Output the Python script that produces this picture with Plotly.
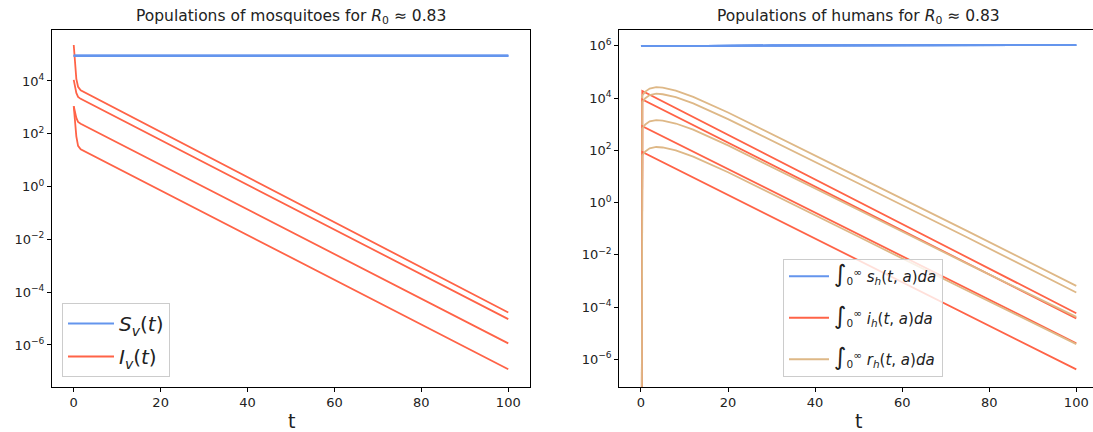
import plotly.graph_objects as go

# ---------------- data ----------------
# Left panel: mosquitoes, 4 simulations
t_mosq_S = [0, 50, 100]
S_v = [
    [9.0e4, 9.0e4, 9.0e4],
    [9.0e4, 9.0e4, 9.0e4],
    [9.0e4, 9.0e4, 9.0e4],
    [9.0e4, 9.0e4, 9.0e4],
]
t_mosq_I = [0, 0.6, 1.0, 1.6, 100]
I_v = [
    [2.3e5, 1.2e4, 6.0e3, 4.4e3, 1.7e-5],
    [1.1e4, 3.5e3, 2.5e3, 2.1e3, 9.5e-6],
    [1.1e3, 4.0e2, 2.8e2, 2.4e2, 1.15e-6],
    [1.1e3, 8.0e1, 3.5e1, 2.6e1, 1.2e-7],
]

# Right panel: humans, 4 simulations
t_hum_s = [0, 5, 15, 30, 100]
s_h = [
    [1.0e6, 0.99e6, 1.01e6, 1.04e6, 1.08e6],
    [1.0e6, 0.99e6, 1.01e6, 1.04e6, 1.08e6],
    [1.0e6, 0.99e6, 1.01e6, 1.04e6, 1.08e6],
    [1.0e6, 0.99e6, 1.01e6, 1.04e6, 1.08e6],
]
t_hum_i = [0, 0.3, 100]
i_h = [
    [0, 1.9e4, 5.8e-5],
    [0, 9.0e3, 3.7e-5],
    [0, 8.5e2, 4.1e-6],
    [0, 8.7e1, 4.1e-7],
]
t_hum_r = [0, 0.3, 1, 2, 3.5, 5, 8, 12, 20, 33, 50, 75, 100]
r_h = [
    [0, 1.26e4, 1.78e4, 2.34e4, 2.63e4, 2.51e4, 1.95e4, 1.12e4, 2.82e3, 2.45e2, 9.5, 8.1e-2, 6.5e-4],
    [0, 7.1e3, 1.0e4, 1.32e4, 1.48e4, 1.41e4, 1.10e4, 6.3e3, 1.58e3, 1.38e2, 5.4, 4.6e-2, 3.6e-4],
    [0, 6.9e2, 9.8e2, 1.29e3, 1.45e3, 1.38e3, 1.07e3, 6.2e2, 1.55e2, 13.5, 0.52, 4.5e-3, 4.2e-5],
    [0, 65, 91, 120, 135, 129, 100, 58, 14.5, 1.26, 4.9e-2, 4.2e-4, 3.8e-6],
]

x_ticks = [0, 20, 40, 60, 80, 100]
y_tick_vals = [1e-6, 1e-4, 1e-2, 1e0, 1e2, 1e4, 1e6]
y_tick_text = ["10<sup>\u22126</sup>", "10<sup>\u22124</sup>", "10<sup>\u22122</sup>",
               "10<sup>0</sup>", "10<sup>2</sup>", "10<sup>4</sup>", "10<sup>6</sup>"]

# zero values cannot be shown on a log axis; matplotlib clips them far below the view
LOG_FLOOR = 1e-30


def clip(vals):
    return [v if v > 0 else LOG_FLOOR for v in vals]


BLUE = "#6495ED"
RED = "#FF6347"
TAN = "#DEB887"
FONT = "DejaVu Sans"
LW = 1.8

fig = go.Figure()

# ---- left panel ----
for k in range(4):
    fig.add_trace(go.Scatter(
        x=t_mosq_S, y=S_v[k], mode="lines", line=dict(color=BLUE, width=LW),
        name="<i>S<sub>v</sub></i>(<i>t</i>)", legendgroup="Sv", showlegend=(k == 0),
        legend="legend", xaxis="x", yaxis="y"))
    fig.add_trace(go.Scatter(
        x=t_mosq_I, y=I_v[k], mode="lines", line=dict(color=RED, width=LW),
        name="<i>I<sub>v</sub></i>(<i>t</i>)", legendgroup="Iv", showlegend=(k == 0),
        legend="legend", xaxis="x", yaxis="y"))

# ---- right panel ----
INT = "<span style='font-size:24px'>\u222B</span><sub>0</sub><sup>\u221E</sup> "
for k in range(4):
    fig.add_trace(go.Scatter(
        x=t_hum_s, y=s_h[k], mode="lines", line=dict(color=BLUE, width=LW),
        name=INT + "<i>s<sub>h</sub></i>(<i>t</i>, <i>a</i>)<i>da</i>",
        legendgroup="sh", showlegend=(k == 0), legend="legend2", xaxis="x2", yaxis="y2"))
    fig.add_trace(go.Scatter(
        x=t_hum_i, y=clip(i_h[k]), mode="lines", line=dict(color=RED, width=LW),
        name=INT + "<i>i<sub>h</sub></i>(<i>t</i>, <i>a</i>)<i>da</i>",
        legendgroup="ih", showlegend=(k == 0), legend="legend2", xaxis="x2", yaxis="y2"))
    fig.add_trace(go.Scatter(
        x=t_hum_r, y=clip(r_h[k]), mode="lines", line=dict(color=TAN, width=LW),
        name=INT + "<i>r<sub>h</sub></i>(<i>t</i>, <i>a</i>)<i>da</i>",
        legendgroup="rh", showlegend=(k == 0), legend="legend2", xaxis="x2", yaxis="y2"))

W, H = 1093, 432
y_dom = [1 - 386.7 / H, 1 - 30 / H]

axis_common = dict(showgrid=False, zeroline=False, showline=True, linecolor="black",
                   linewidth=1, ticks="outside", ticklen=4, tickcolor="black",
                   tickfont=dict(family=FONT, size=13, color="#222"))

fig.update_layout(
    width=W, height=H,
    margin=dict(l=0, r=0, t=0, b=0, autoexpand=False),
    paper_bgcolor="white", plot_bgcolor="white",
    font=dict(family=FONT, color="#222"),
    xaxis=dict(domain=[52 / W, 530 / W], range=[-5, 105], tickvals=x_ticks,
               mirror=True, anchor="y", **axis_common),
    yaxis=dict(domain=y_dom, type="log", range=[-7.58, 5.93], tickvals=y_tick_vals,
               ticktext=y_tick_text, mirror=True, anchor="x", **axis_common),
    xaxis2=dict(domain=[619.2 / W, 1.0], range=[-5, 103.84], tickvals=x_ticks,
                mirror=True, anchor="y2", **axis_common),
    yaxis2=dict(domain=y_dom, type="log", range=[-7.05, 6.61], tickvals=y_tick_vals,
                ticktext=y_tick_text, mirror=False, anchor="x2", **axis_common),
    legend=dict(x=62 / W, y=1 - 377 / H, xanchor="left", yanchor="bottom",
                bgcolor="rgba(255,255,255,0.8)", bordercolor="#cccccc", borderwidth=1,
                font=dict(family=FONT, size=20, color="#222"), tracegroupgap=4,
                itemwidth=46),
    legend2=dict(x=783 / W, y=1 - 377 / H, xanchor="left", yanchor="bottom",
                 bgcolor="rgba(255,255,255,0.8)", bordercolor="#cccccc", borderwidth=1,
                 font=dict(family=FONT, size=15, color="#222"), tracegroupgap=19,
                 itemwidth=40),
    annotations=[
        dict(text="Populations of mosquitoes for <i>R</i><sub>0</sub> \u2248 0.83",
             x=291 / W, y=1 - 17 / H, xref="paper", yref="paper", showarrow=False,
             xanchor="center", yanchor="middle", font=dict(family=FONT, size=15.5, color="#222")),
        dict(text="Populations of humans for <i>R</i><sub>0</sub> \u2248 0.83",
             x=858 / W, y=1 - 17 / H, xref="paper", yref="paper", showarrow=False,
             xanchor="center", yanchor="middle", font=dict(family=FONT, size=15.5, color="#222")),
        dict(text="t", x=291 / W, y=1 - 421 / H, xref="paper", yref="paper", showarrow=False,
             xanchor="center", yanchor="middle", font=dict(family=FONT, size=19, color="#222")),
        dict(text="t", x=858 / W, y=1 - 421 / H, xref="paper", yref="paper", showarrow=False,
             xanchor="center", yanchor="middle", font=dict(family=FONT, size=19, color="#222")),
    ],
)

fig.write_html("out.html", config={"displayModeBar": False},
               post_script="document.body.style.margin='0';document.body.style.overflow='hidden';")
